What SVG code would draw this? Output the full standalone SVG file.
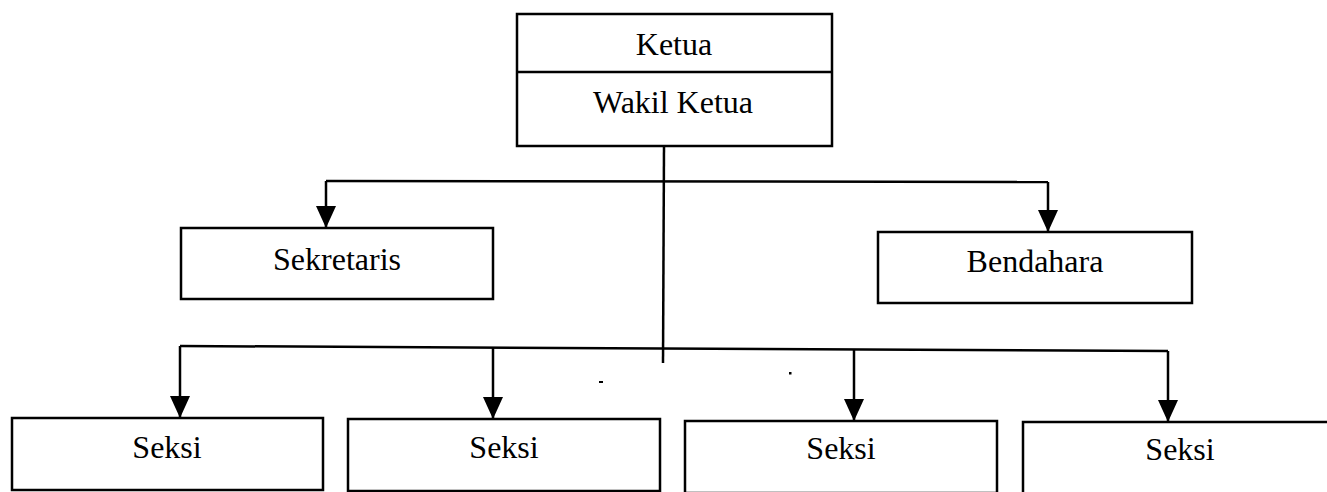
<svg xmlns="http://www.w3.org/2000/svg" width="1327" height="492" viewBox="0 0 1327 492">
<style>
.box{fill:#fff;stroke:#000;stroke-width:2.5}
.lbl{font-family:"Liberation Serif","Times New Roman",serif;font-size:32px;fill:#000;text-anchor:middle}
.ln{fill:none;stroke:#000;stroke-width:2.5}
.arr{fill:none;stroke:#000;stroke-width:2.5;marker-end:url(#ah)}
</style>
<defs>
<marker id="ah" markerUnits="userSpaceOnUse" viewBox="0 0 22 20" refX="22" refY="10" markerWidth="22" markerHeight="20" orient="auto">
<path d="M0,0 L22,10 L0,20 z" fill="#000"/>
</marker>
</defs>
<rect width="1327" height="492" fill="#fff"/>
<g id="connectors">
<path class="ln" d="M664,146 L663,363"/>
<path class="ln" d="M326,181 L1048,182"/>
<path class="arr" d="M326,181 L326,228"/>
<path class="arr" d="M1048,182 L1048,232"/>
<path class="ln" d="M180,346 L1168,351"/>
<path class="arr" d="M180,346 L180,418"/>
<path class="arr" d="M493,347 L493,419"/>
<path class="arr" d="M854,349 L854,421"/>
<path class="arr" d="M1168,351 L1168,422"/>
</g>
<g id="ketua">
<rect class="box" x="517" y="14" width="315" height="132"/>
<line class="ln" x1="517" y1="72" x2="832" y2="72"/>
<text class="lbl" x="674" y="55">Ketua</text>
<text class="lbl" x="673" y="113">Wakil Ketua</text>
</g>
<g id="sekretaris">
<rect class="box" x="181" y="228" width="312" height="71"/>
<text class="lbl" x="337" y="270">Sekretaris</text>
</g>
<g id="bendahara">
<rect class="box" x="878" y="232" width="314" height="71"/>
<text class="lbl" x="1035" y="272">Bendahara</text>
</g>
<g id="seksi1">
<rect class="box" x="12" y="418" width="311" height="72"/>
<text class="lbl" x="167" y="458">Seksi</text>
</g>
<g id="seksi2">
<rect class="box" x="348" y="419" width="312" height="72"/>
<text class="lbl" x="504" y="458">Seksi</text>
</g>
<g id="seksi3">
<rect class="box" x="685" y="421" width="312" height="72"/>
<text class="lbl" x="841" y="459">Seksi</text>
</g>
<g id="seksi4">
<rect class="box" x="1023" y="422" width="313" height="72"/>
<text class="lbl" x="1180" y="460">Seksi</text>
</g>
<g id="marks">
<rect x="599" y="381" width="4" height="2" fill="#000"/>
<rect x="789" y="372" width="2.5" height="2.5" fill="#000"/>
</g>
</svg>
